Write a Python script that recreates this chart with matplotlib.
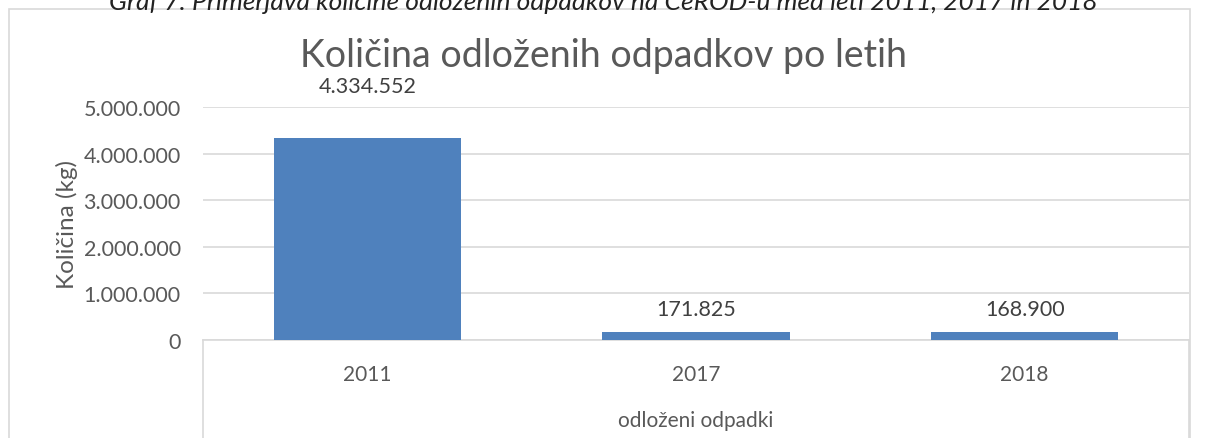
import matplotlib.pyplot as plt
from matplotlib.patches import Rectangle
from matplotlib.lines import Line2D
from matplotlib.ticker import FuncFormatter

years = ['2011', '2017', '2018']
amounts = [4334552, 171825, 168900]
yticks = [0, 1000000, 2000000, 3000000, 4000000, 5000000]

caption = 'Graf 7: Primerjava količine odloženih odpadkov na CeROD-u med leti 2011, 2017 in 2018'
title = 'Količina odloženih odpadkov po letih'
ylabel = 'Količina (kg)'
group_label = 'odloženi odpadki'


def dots(v, pos=None):
    return f'{int(round(v)):,}'.replace(',', '.')


plt.rcParams['font.family'] = ['Lato', 'DejaVu Sans']
text_col = '#595959'
grid_col = '#d9d9d9'
bar_col = '#4f81bd'

fig = plt.figure(figsize=(12.07, 4.39), dpi=100)

# outer chart border (bottom runs off the image)
fig.patches.append(Rectangle((9 / 1207, -0.05), (1190 - 9) / 1207, 1.05 - 10 / 439,
                             transform=fig.transFigure, fill=False,
                             edgecolor=grid_col, linewidth=1.2))

# caption above the chart, cropped by the image edge in the source
fig.text(0.5, 1 - 2 / 439, caption, ha='center', va='center', style='italic',
         fontsize=19, color='#222222')

ax = fig.add_axes([203 / 1207, 1 - 341 / 439, (1189 - 203) / 1207, (341 - 108) / 439])
x = range(len(years))
ax.bar(x, amounts, width=0.57, color=bar_col, zorder=3)
ax.set_xlim(-0.5, len(years) - 0.5)
ax.set_ylim(0, 5000000)
ax.set_yticks(yticks)
ax.yaxis.set_major_formatter(FuncFormatter(dots))
ax.grid(axis='y', color=grid_col, linewidth=1.2, zorder=0)
for s in ['top', 'right', 'left']:
    ax.spines[s].set_visible(False)
ax.spines['bottom'].set_color(grid_col)
ax.spines['bottom'].set_linewidth(1.2)
ax.tick_params(axis='y', length=0, labelsize=15.5, labelcolor=text_col, pad=16)
ax.tick_params(axis='x', length=0, labelsize=15, labelcolor=text_col, pad=17)
ax.set_xticks(list(x))
ax.set_xticklabels(years)

# multi-level category axis box
for xa in (0, 1):
    ax.add_line(Line2D([xa, xa], [0, -0.45], transform=ax.transAxes,
                       color=grid_col, linewidth=1.2, clip_on=False))
ax.text(0.5, -0.345, group_label, transform=ax.transAxes, ha='center', va='center',
        fontsize=15, color=text_col)

ax.set_ylabel(ylabel, fontsize=17.5, color=text_col, labelpad=4)

offsets = [52, 23, 23]
for i, v in enumerate(amounts):
    ax.annotate(dots(v), (i, v), xytext=(0, offsets[i]), textcoords='offset pixels',
                ha='center', va='center', fontsize=15.5, color='#404040')

fig.text(0.5, 1 - 56 / 439, title, ha='center', va='center', fontsize=27, color=text_col)

fig.savefig('out.png', dpi=100)
